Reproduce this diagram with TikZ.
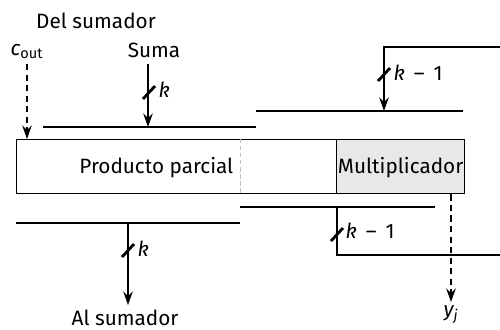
\documentclass[tikz,border=0pt]{standalone}
\usepackage{fontspec}
\setmainfont{Fira Sans}
\usetikzlibrary{arrows.meta, positioning, calc}

\begin{document}
\begin{tikzpicture}[
    x=0.02cm, y=-0.02cm,
    line width=0.8pt,
    every node/.style={font=\fontsize{11.8}{13}\selectfont, inner sep=0pt},
    txt/.style={anchor=base},
    reg/.style={rectangle, draw, minimum height=1.08cm, anchor=north west},
    mult/.style={rectangle, draw, fill=gray!18, minimum height=1.08cm,
                 minimum width=2.56cm, anchor=north east},
    arrow/.style={-{Stealth[length=2.7mm, width=1.9mm, inset=0.9mm]}},
    dashline/.style={dash pattern=on 3.5pt off 2.5pt},
    slash/.style={line width=1.6pt},
]
\useasboundingbox (0,0) rectangle (500,329);

% ── Registers ──
\node[reg, minimum width=8.96cm] (pp) at (16,139) {};
\node[mult] (mult) at (pp.north east) {};
\node[txt] (multtext) at (mult.center |- 0,173) {Multiplicador};
\coordinate (split) at (240,139);
\draw[gray!50, line width=0.5pt, dash pattern=on 2.5pt off 1.5pt]
  (split) -- (split |- pp.south);
\node[txt, anchor=base east] (pptext) at (234,173) {Producto parcial};

% ── Bus lines ──
\coordinate (busTL1) at (43,127);  \coordinate (busTL2) at (256,127);
\coordinate (busTR1) at (256,111); \coordinate (busTR2) at (463,111);
\coordinate (busBR1) at (240,207); \coordinate (busBR2) at (435,207);
\coordinate (busBL1) at (16,223);  \coordinate (busBL2) at (240,223);
\draw (busTL1) -- (busTL2);
\draw (busTR1) -- (busTR2);
\draw (busBR1) -- (busBR2);
\draw (busBL1) -- (busBL2);

% ── Labels ──
\node[txt] (delsum) at (96,28) {Del sumador};
\node[txt] (suma) at (154,57) {Suma};
\node[txt] (cout) at (27,55) {\textit{c}\textsubscript{out}};
\node[txt] (alsum) at (125,325) {Al sumador};
\node[txt] (yj) at (451,316) {\textit{y\textsubscript{j}}};

% ── Inputs from the adder ──
\coordinate (sumaIn) at (148,127);
\draw[arrow] (148,64) -- (sumaIn);
\draw[slash] ($(sumaIn)+(-5,-28)$) -- ($(sumaIn)+(7,-41)$);
\node[txt, anchor=base west] (kA) at ($(sumaIn)+(10,-30)$) {\textit{k}};
\draw[arrow, dashline] (27,64) -- (27,139);

% ── Feedback to the upper bus ──
\coordinate (fbIn) at (384,111);
\coordinate (fbTop) at (500,47);
\draw[arrow] (fbTop) -| (fbIn);
\draw[slash] ($(fbIn)+(-6,-30)$) -- ($(fbIn)+(6,-43)$);
\node[txt, anchor=base west] (kB) at ($(fbIn)+(9,-31)$) {\textit{k} \,–\, 1};

% ── Shifted bits out ──
\coordinate (shOut) at (337,207);
\coordinate (shEnd) at (500,255);
\draw (shOut) |- (shEnd);
\draw[slash] ($(shOut)+(-6,34)$) -- ($(shOut)+(6,21)$);
\node[txt, anchor=base west] (kC) at ($(shOut)+(8,31)$) {\textit{k} \,–\, 1};

% ── Outputs ──
\coordinate (alOut) at (128,223);
\draw[arrow] (alOut) -- (128,305);
\draw[slash] ($(alOut)+(-6,34)$) -- ($(alOut)+(6,21)$);
\node[txt, anchor=base west] (kD) at ($(alOut)+(9,33)$) {\textit{k}};
\draw[arrow, dashline] (mult.south -| yj) -- (451,302);

\end{tikzpicture}
\end{document}
